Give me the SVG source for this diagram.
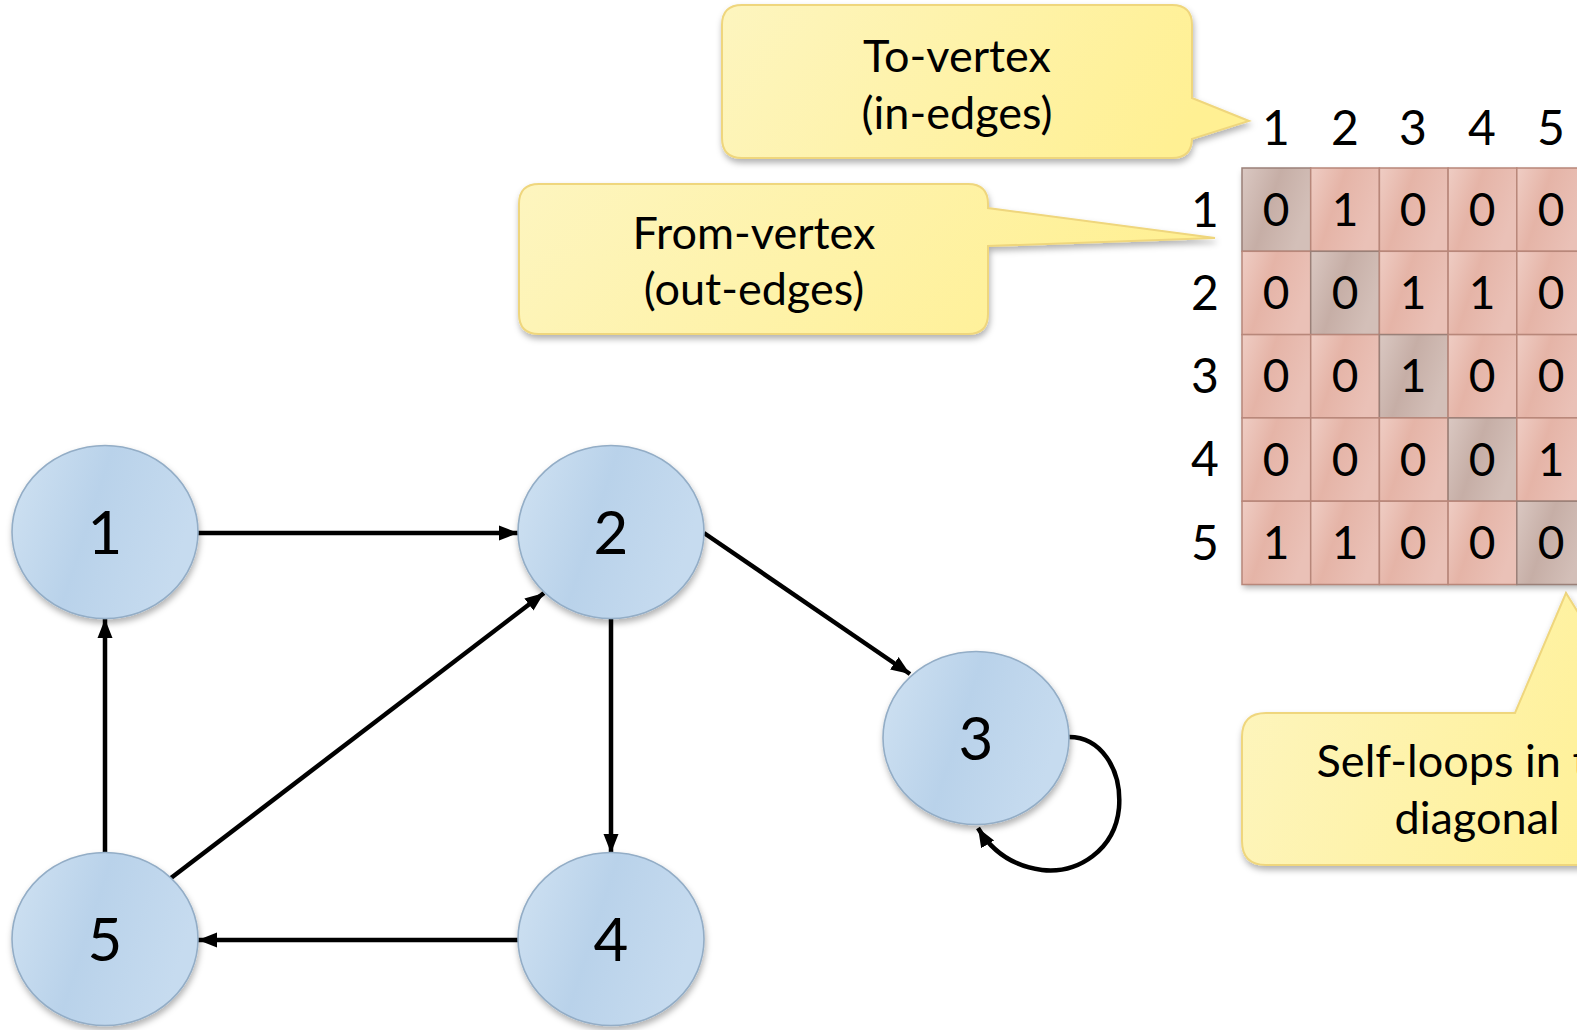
<svg xmlns="http://www.w3.org/2000/svg" width="1577" height="1030" viewBox="0 0 1577 1030">
<defs>
<style>
.t{font-family:Lato,"Open Sans","Liberation Sans",sans-serif;fill:#000;text-anchor:middle}
.call{font-size:45px}
.lab{font-size:48px}
.cv{font-size:46px}
.nl{font-size:60px}
.node{fill:url(#ng);stroke:#93adc6;stroke-width:1.6;filter:url(#sh)}
.cell{fill:url(#cg);stroke:#b8877a;stroke-width:1.5}
.diag{fill:url(#dg);stroke:#9a8078;stroke-width:1.5}
.callout{fill:url(#yg);stroke:#efd67d;stroke-width:2;filter:url(#sh)}
.edge{fill:none;stroke:#000;stroke-width:4.5;marker-end:url(#ah)}
</style>
<linearGradient id="ng" x1="0" y1="0" x2="1" y2="0.3">
<stop offset="0" stop-color="#d0e2f2"/>
<stop offset="0.5" stop-color="#b9d2ea"/>
<stop offset="1" stop-color="#c6dbef"/>
</linearGradient>
<linearGradient id="cg" x1="0" y1="0" x2="1" y2="0.4">
<stop offset="0" stop-color="#efcdc4"/>
<stop offset="0.45" stop-color="#e5b4a7"/>
<stop offset="1" stop-color="#eac1b7"/>
</linearGradient>
<linearGradient id="dg" x1="0" y1="0" x2="1" y2="0.4">
<stop offset="0" stop-color="#dac8c2"/>
<stop offset="0.5" stop-color="#c6aea6"/>
<stop offset="1" stop-color="#d3bfb8"/>
</linearGradient>
<linearGradient id="yg" x1="0" y1="0" x2="1" y2="0.2">
<stop offset="0" stop-color="#fdf5bf"/>
<stop offset="1" stop-color="#fff093"/>
</linearGradient>
<filter id="sh" x="-10%" y="-10%" width="125%" height="130%">
<feDropShadow dx="1" dy="4" stdDeviation="3" flood-color="#000" flood-opacity="0.3"/>
</filter>
<marker id="ah" markerUnits="userSpaceOnUse" markerWidth="22" markerHeight="18" refX="19" refY="9" orient="auto">
<path d="M0,1.5 L19,9 L0,16.5 z" fill="#000"/>
</marker>
</defs>

<g id="callout-to">
<path class="callout" d="M742,5 H1172 Q1192,5 1192,25 V98 L1249,121 L1192,139 V138 Q1192,158 1172,158 H742 Q722,158 722,138 V25 Q722,5 742,5 Z"/>
<text class="t call" x="957" y="72">To-vertex</text>
<text class="t call" x="957" y="129">(in-edges)</text>
</g>

<g id="callout-from">
<path class="callout" d="M539,184 H968 Q988,184 988,204 V208 L1215,238 L988,246 V314 Q988,334 968,334 H539 Q519,334 519,314 V204 Q519,184 539,184 Z"/>
<text class="t call" x="754" y="249">From-vertex</text>
<text class="t call" x="754" y="305">(out-edges)</text>
</g>

<g id="callout-self">
<path class="callout" d="M1266,713 H1515 L1566,593 L1640,713 H1690 Q1714,713 1714,737 V841 Q1714,865 1690,865 H1266 Q1242,865 1242,841 V737 Q1242,713 1266,713 Z"/>
<text class="t call" x="1477" y="777">Self-loops in the</text>
<text class="t call" x="1477" y="834">diagonal</text>
</g>

<g id="matrix">
<rect x="1242" y="168" width="345" height="416" fill="#e4b1a4" filter="url(#sh)"/>
<g id="col-labels" class="t lab">
<text x="1276" y="145">1</text>
<text x="1345" y="145">2</text>
<text x="1413" y="145">3</text>
<text x="1482" y="145">4</text>
<text x="1551" y="145">5</text>
</g>
<g id="row-labels" class="t lab">
<text x="1205" y="227">1</text>
<text x="1205" y="310">2</text>
<text x="1205" y="393">3</text>
<text x="1205" y="476">4</text>
<text x="1205" y="560">5</text>
</g>
<g id="cells">
<rect class="diag" x="1242" y="168" width="68.7" height="83.3"/>
<rect class="cell" x="1310.7" y="168" width="68.7" height="83.3"/>
<rect class="cell" x="1379.4" y="168" width="68.7" height="83.3"/>
<rect class="cell" x="1448.1" y="168" width="68.7" height="83.3"/>
<rect class="cell" x="1516.8" y="168" width="68.7" height="83.3"/>
<rect class="cell" x="1242" y="251.3" width="68.7" height="83.3"/>
<rect class="diag" x="1310.7" y="251.3" width="68.7" height="83.3"/>
<rect class="cell" x="1379.4" y="251.3" width="68.7" height="83.3"/>
<rect class="cell" x="1448.1" y="251.3" width="68.7" height="83.3"/>
<rect class="cell" x="1516.8" y="251.3" width="68.7" height="83.3"/>
<rect class="cell" x="1242" y="334.6" width="68.7" height="83.3"/>
<rect class="cell" x="1310.7" y="334.6" width="68.7" height="83.3"/>
<rect class="diag" x="1379.4" y="334.6" width="68.7" height="83.3"/>
<rect class="cell" x="1448.1" y="334.6" width="68.7" height="83.3"/>
<rect class="cell" x="1516.8" y="334.6" width="68.7" height="83.3"/>
<rect class="cell" x="1242" y="417.9" width="68.7" height="83.3"/>
<rect class="cell" x="1310.7" y="417.9" width="68.7" height="83.3"/>
<rect class="cell" x="1379.4" y="417.9" width="68.7" height="83.3"/>
<rect class="diag" x="1448.1" y="417.9" width="68.7" height="83.3"/>
<rect class="cell" x="1516.8" y="417.9" width="68.7" height="83.3"/>
<rect class="cell" x="1242" y="501.2" width="68.7" height="83.3"/>
<rect class="cell" x="1310.7" y="501.2" width="68.7" height="83.3"/>
<rect class="cell" x="1379.4" y="501.2" width="68.7" height="83.3"/>
<rect class="cell" x="1448.1" y="501.2" width="68.7" height="83.3"/>
<rect class="diag" x="1516.8" y="501.2" width="68.7" height="83.3"/>
</g>
<g id="values" class="t cv">
<text x="1276" y="226">0</text><text x="1345" y="226">1</text><text x="1413" y="226">0</text><text x="1482" y="226">0</text><text x="1551" y="226">0</text>
<text x="1276" y="309">0</text><text x="1345" y="309">0</text><text x="1413" y="309">1</text><text x="1482" y="309">1</text><text x="1551" y="309">0</text>
<text x="1276" y="392">0</text><text x="1345" y="392">0</text><text x="1413" y="392">1</text><text x="1482" y="392">0</text><text x="1551" y="392">0</text>
<text x="1276" y="476">0</text><text x="1345" y="476">0</text><text x="1413" y="476">0</text><text x="1482" y="476">0</text><text x="1551" y="476">1</text>
<text x="1276" y="559">1</text><text x="1345" y="559">1</text><text x="1413" y="559">0</text><text x="1482" y="559">0</text><text x="1551" y="559">0</text>
</g>
</g>

<g id="connectors">
<line class="edge" x1="198" y1="533" x2="518" y2="533"/>
<line class="edge" x1="704" y1="533" x2="910" y2="674"/>
<line class="edge" x1="611" y1="619" x2="611" y2="853"/>
<line class="edge" x1="518" y1="940" x2="198" y2="940"/>
<line class="edge" x1="105" y1="853" x2="105" y2="619"/>
<line class="edge" x1="171" y1="878" x2="544" y2="593"/>
<path class="edge" d="M1069,737 C1100,737 1122,768 1119,808 C1115,850 1078,874 1042,870 C1012,866 991,850 978,828"/>
</g>

<g id="node-1"><ellipse class="node" cx="105" cy="532" rx="93" ry="86.5"/><text class="t nl" x="105" y="554">1</text></g>
<g id="node-2"><ellipse class="node" cx="611" cy="532" rx="93" ry="86.5"/><text class="t nl" x="611" y="554">2</text></g>
<g id="node-3"><ellipse class="node" cx="976" cy="738" rx="93" ry="86.5"/><text class="t nl" x="976" y="760">3</text></g>
<g id="node-4"><ellipse class="node" cx="611" cy="939" rx="93" ry="86.5"/><text class="t nl" x="611" y="961">4</text></g>
<g id="node-5"><ellipse class="node" cx="105" cy="939" rx="93" ry="86.5"/><text class="t nl" x="105" y="961">5</text></g>
</svg>
